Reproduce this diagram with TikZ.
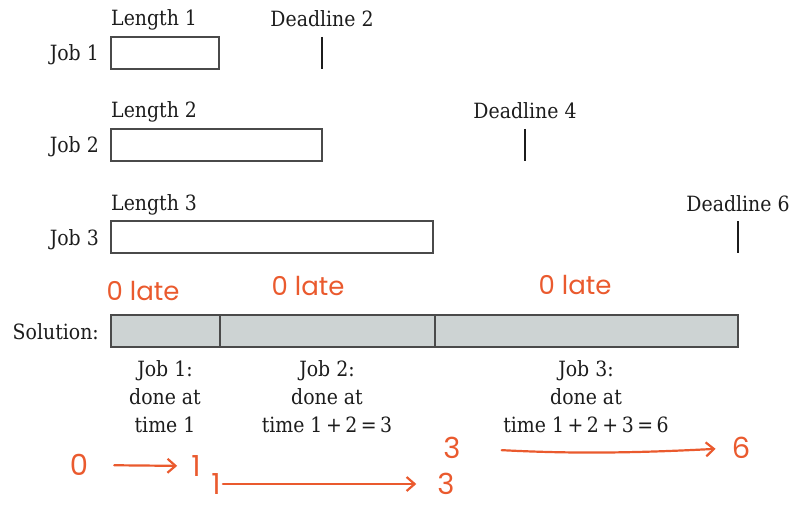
\documentclass[tikz,border=0pt]{standalone}
\usepackage{fontspec}
\setmainfont{DejaVu Serif Condensed}
\newfontfamily\handfont{Poppins}
\usetikzlibrary{arrows.meta}
\definecolor{ink}{HTML}{1C1C1C}
\definecolor{rule}{HTML}{4A4A4A}
\definecolor{barfill}{HTML}{CDD3D3}
\definecolor{pen}{HTML}{EA5A2E}
\begin{document}
\begin{tikzpicture}[x=1pt,y=-1pt,
  txt/.style={font=\fontsize{21}{28}\selectfont, text=ink, inner sep=0pt},
  jobbox/.style={draw=rule, line width=1.5pt, minimum height=32pt, inner sep=0pt, outer sep=0pt, anchor=north west},
  tick/.style={draw=ink, line width=2.2pt},
  slot/.style={draw=rule, line width=1.5pt, fill=barfill, minimum height=32pt, inner sep=0pt, outer sep=0pt, anchor=north west},
  note/.style={font=\handfont\fontsize{26}{30}\selectfont, text=pen, inner sep=0pt},
  digit/.style={font=\handfont\fontsize{29}{30}\selectfont, text=pen, inner sep=0pt},
  pen arrow/.style={draw=pen, line width=2.2pt, line cap=round,
    -{Straight Barb[length=8pt,width=14pt,line width=2.2pt]}}
]
\useasboundingbox (0,0) rectangle (794,505);

% --- the three jobs ---
\node[jobbox, minimum width=108pt] (j1) at (111,37) {};
\node[txt, anchor=base east] (job1) at (99,61) {Job 1};
\node[txt, anchor=base west] (len1) at (111,26) {Length 1};
\node[txt, anchor=base] (dl2) at (322,27) {Deadline 2};
\draw[tick] (dl2.south |- j1.north) -- (dl2.south |- j1.south);

\node[jobbox, minimum width=211pt] (j2) at (111,129) {};
\node[txt, anchor=base east] (job2) at (99,153) {Job 2};
\node[txt, anchor=base west] (len2) at (111,118) {Length 2};
\node[txt, anchor=base] (dl4) at (525,119) {Deadline 4};
\draw[tick] (dl4.south |- j2.north) -- (dl4.south |- j2.south);

\node[jobbox, minimum width=322pt] (j3) at (111,221) {};
\node[txt, anchor=base east] (job3) at (99,245) {Job 3};
\node[txt, anchor=base west] (len3) at (111,210) {Length 3};
\node[txt, anchor=base] (dl6) at (738,211) {Deadline 6};
\draw[tick] (dl6.south |- j3.north) -- (dl6.south |- j3.south);

% --- the schedule bar ---
\node[txt, anchor=base east] (sol) at (99,339) {Solution:};
\node[slot, minimum width=109pt] (s1) at (111,315) {};
\node[slot, minimum width=215pt] (s2) at (s1.north east) {};
\node[slot, minimum width=303pt] (s3) at (s2.north east) {};

\node[txt, align=center, anchor=north] (c1) at (165,360) {Job 1:\\done at\\time 1};
\node[txt, align=center, anchor=north] (c2) at (327,360) {Job 2:\\done at\\time 1\,+\,2\,=\,3};
\node[txt, align=center, anchor=north] (c3) at (586,360) {Job 3:\\done at\\time 1\,+\,2\,+\,3\,=\,6};

% --- pen notes ---
\node[note] (n1) at (143,291) {0 late};
\node[note] (n2) at (308,286) {0 late};
\node[note] (n3) at (575,285) {0 late};

\node[digit] (h0) at (79,465) {0};
\node[digit] (h1) at (196,466) {1};
\node[digit] (h2) at (216,484) {1};
\node[digit] (h3) at (446,484) {3};
\node[digit] (h4) at (452,448) {3};
\node[digit] (h5) at (741,448) {6};

\draw[pen arrow, shorten <=26pt, shorten >=14pt] (h0.east) -- (h1.west);
\draw[pen arrow, shorten <=2pt, shorten >=21pt] (h2.east) -- (h3.west);
\draw[pen arrow, shorten <=41pt, shorten >=16pt] (h4.east) to[bend right=3] (h5.west);
\end{tikzpicture}
\end{document}
